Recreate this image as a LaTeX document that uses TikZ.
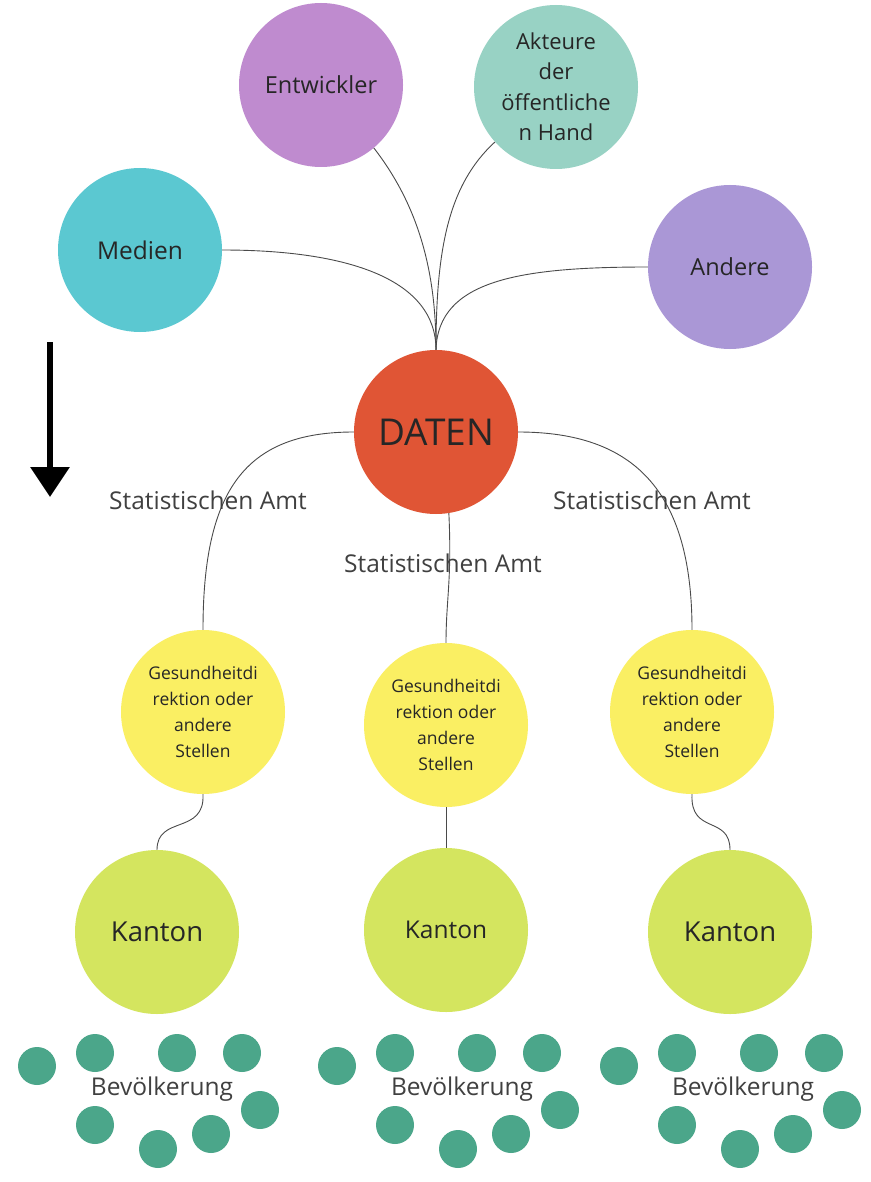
\documentclass[tikz,border=0pt]{standalone}
\usepackage{fontspec}
\setmainfont{Open Sans}
\usetikzlibrary{arrows.meta}
\definecolor{cMedien}{HTML}{5BC8D1}
\definecolor{cEntw}{HTML}{BF8BCF}
\definecolor{cAkt}{HTML}{98D2C4}
\definecolor{cAndere}{HTML}{AA97D6}
\definecolor{cDaten}{HTML}{E05535}
\definecolor{cGelb}{HTML}{FAEF63}
\definecolor{cKanton}{HTML}{D4E55F}
\definecolor{cDot}{HTML}{4BA68A}
\definecolor{cText}{HTML}{262626}
\definecolor{cLabel}{HTML}{404040}
\definecolor{cLine}{HTML}{4A4A4A}
\begin{document}
\begin{tikzpicture}[x=1pt,y=-1pt,
  bubble/.style={circle,minimum size=164pt,inner sep=0pt,text=cText,align=center},
  dot/.style={circle,minimum size=38pt,inner sep=0pt,fill=cDot},
  conn/.style={draw=cLine,line width=0.9pt},
  lbl/.style={text=cLabel,font=\fontsize{24.5}{28}\selectfont,inner sep=0pt},
  bev/.style={text=cLabel,font=\fontsize{24.5}{28}\selectfont,inner sep=0pt},
  gelb/.style={bubble,fill=cGelb,font=\fontsize{17.5}{26}\selectfont}]
\useasboundingbox[fill=white] (0,0) rectangle (870,1182);

% top nodes
\node[bubble,fill=cEntw,font=\fontsize{23.5}{28}\selectfont] (entw) at (321,85) {Entwickler};
\node[bubble,fill=cAkt,font=\fontsize{22}{30.5}\selectfont] (akt) at (556,87) {Akteure\\der\\öffentliche\\n Hand};
\node[bubble,fill=cMedien,font=\fontsize{24.5}{28}\selectfont] (medien) at (140,250) {Medien};
\node[bubble,fill=cAndere,font=\fontsize{23.5}{28}\selectfont] (andere) at (730,267) {Andere};
\node[bubble,fill=cDaten,font=\fontsize{37}{42}\selectfont] (daten) at (436,432) {DATEN};

% yellow nodes
\node[gelb] (yl) at (203,712) {Gesundheitdi\\rektion oder\\andere\\Stellen};
\node[gelb] (ym) at (446,725) {Gesundheitdi\\rektion oder\\andere\\Stellen};
\node[gelb] (yr) at (692,712) {Gesundheitdi\\rektion oder\\andere\\Stellen};

% Kanton nodes
\node[bubble,fill=cKanton,font=\fontsize{27.5}{32}\selectfont] (kl) at (157,932) {Kanton};
\node[bubble,fill=cKanton,font=\fontsize{24.5}{28}\selectfont] (km) at (446,930) {Kanton};
\node[bubble,fill=cKanton,font=\fontsize{27.5}{32}\selectfont] (kr) at (730,932) {Kanton};

% connectors top
\draw[conn] (medien.east) .. controls (350,250) and (436,280) .. (daten.north);
\draw[conn] (entw.-50) .. controls (418,205) and (436,270) .. (daten.north);
\draw[conn] (akt.-138) .. controls (448,185) and (436,250) .. (daten.north);
\draw[conn] (daten.north) .. controls (438,280) and (520,267) .. (andere.west);

% connectors DATEN -> yellow
\draw[conn] (daten.west) .. controls (245,432) and (203,490) .. (yl.north);
\draw[conn] (daten.east) .. controls (633,432) and (692,490) .. (yr.north);
\draw[conn] (daten.-81) .. controls (452,580) and (446,600) .. (ym.north);

% labels
\node[lbl] (l1) at (208,500) {Statistischen Amt};
\node[lbl] (l2) at (443,563) {Statistischen Amt};
\node[lbl] (l3) at (652,500) {Statistischen Amt};

% connectors Kanton -> yellow
\draw[conn] (yl.south) .. controls (205,835) and (157,815) .. (kl.north);
\draw[conn] (yr.south) .. controls (690,835) and (730,815) .. (kr.north);
\draw[conn] (km.north) -- (ym.south);

% big arrow
\coordinate (arrA) at (50,342);
\coordinate (arrB) at (50,497);
\draw[line width=6.5pt,-{Triangle[width=38pt,length=30pt]}] (arrA) -- (arrB);

% population dots
\foreach \g/\ox in {1/0,2/300,3/582}{
  \foreach \i/\px/\py in {1/37/1066,2/95/1053,3/177/1053,4/242/1053,5/95/1125,6/158/1149,7/211/1134,8/260/1110}{
    \node[dot] (d\g-\i) at (\px+\ox,\py) {};
  }
}
\node[bev] (b1) at (162,1089) {Bevölkerung};
\node[bev] (b2) at (462,1089) {Bevölkerung};
\node[bev] (b3) at (743,1089) {Bevölkerung};
\end{tikzpicture}
\end{document}
